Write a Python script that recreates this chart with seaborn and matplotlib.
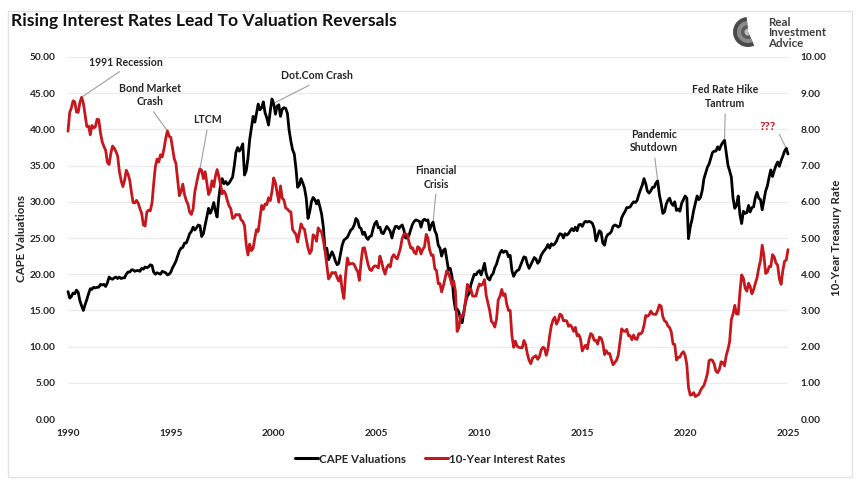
import matplotlib
matplotlib.use('Agg')
import numpy as np
import pandas as pd
import matplotlib.pyplot as plt
import matplotlib.dates as mdates
import seaborn as sns
from matplotlib.lines import Line2D
from matplotlib.patches import Rectangle, Wedge
from matplotlib.ticker import FormatStrFormatter

# monthly values, Jan 1990 .. Jan 2025
cape_values = [
    17.6, 16.7, 16.9, 17.4, 17.3, 17.8, 17.5, 16.3, 15.6, 15.0, 15.8, 16.5,  # 1990
    17.3, 18.0, 17.9, 18.2, 18.1, 18.2, 18.2, 18.6, 18.5, 18.6, 18.3, 18.8,  # 1991
    19.6, 19.4, 19.3, 19.5, 19.6, 19.4, 19.6, 19.4, 19.5, 19.5, 20.0, 20.3,  # 1992
    20.3, 20.6, 20.6, 20.4, 20.5, 20.5, 20.4, 20.8, 20.7, 21.0, 20.9, 21.0,  # 1993
    21.3, 21.2, 20.3, 20.0, 20.2, 20.1, 20.0, 20.4, 20.3, 20.2, 19.9, 20.0,  # 1994
    20.3, 20.9, 21.3, 21.8, 22.5, 23.2, 23.6, 23.7, 24.3, 24.3, 24.9, 25.6,  # 1995
    25.9, 26.5, 26.1, 26.4, 26.8, 26.7, 25.2, 25.6, 26.8, 27.9, 29.1, 28.4,  # 1996
    29.0, 29.9, 28.8, 27.9, 30.5, 32.3, 33.2, 32.5, 32.8, 32.4, 32.6, 33.0,  # 1997
    33.4, 35.0, 36.8, 37.5, 37.0, 37.4, 38.0, 33.7, 34.3, 36.0, 38.6, 40.2,  # 1998
    41.8, 41.0, 42.2, 43.5, 42.7, 43.0, 43.8, 42.3, 41.6, 40.6, 42.5, 44.2,  # 1999
    43.6, 42.1, 43.2, 43.4, 41.8, 42.8, 43.0, 42.9, 42.2, 39.9, 38.4, 37.2,  # 2000
    36.6, 34.5, 32.0, 32.3, 33.2, 32.6, 31.9, 30.5, 27.7, 28.6, 30.0, 30.6,  # 2001
    30.3, 29.7, 30.2, 29.3, 28.3, 26.5, 23.3, 23.6, 22.0, 22.5, 23.1, 22.6,  # 2002
    21.8, 21.3, 21.5, 22.8, 24.0, 24.7, 24.9, 25.1, 25.6, 26.1, 26.3, 26.8,  # 2003
    27.7, 27.4, 26.5, 26.3, 25.5, 25.8, 25.1, 24.8, 25.2, 25.3, 26.3, 27.0,  # 2004
    27.3, 26.4, 26.5, 25.7, 25.6, 26.1, 26.6, 26.3, 25.9, 25.0, 26.0, 26.6,  # 2005
    26.6, 26.3, 26.6, 26.8, 26.1, 25.0, 25.0, 25.4, 26.2, 26.9, 27.3, 27.5,  # 2006
    27.4, 27.3, 26.5, 27.4, 27.6, 27.4, 27.5, 26.1, 26.8, 27.2, 26.0, 25.5,  # 2007
    24.0, 23.6, 22.5, 23.3, 23.5, 22.0, 20.6, 20.8, 19.7, 16.7, 15.1, 15.2,  # 2008
    14.8, 13.6, 13.3, 14.9, 16.2, 17.0, 17.3, 18.5, 19.3, 20.0, 19.9, 20.3,  # 2009
    20.5, 19.9, 20.6, 21.5, 20.1, 19.4, 19.2, 19.8, 20.1, 20.9, 21.4, 22.2,  # 2010
    22.9, 23.3, 23.0, 23.2, 23.1, 22.4, 22.6, 20.5, 19.7, 20.2, 20.5, 20.6,  # 2011
    21.2, 21.8, 22.4, 22.3, 21.4, 20.8, 21.3, 21.8, 22.3, 22.1, 21.5, 21.8,  # 2012
    22.6, 23.0, 23.3, 23.6, 24.1, 23.6, 24.2, 24.0, 24.2, 24.6, 25.2, 25.6,  # 2013
    25.5, 25.0, 25.6, 25.4, 25.6, 26.0, 26.3, 26.0, 26.5, 26.0, 26.8, 26.9,  # 2014
    26.6, 27.1, 27.3, 27.2, 27.3, 27.2, 27.0, 26.3, 24.6, 25.3, 26.0, 25.8,  # 2015
    24.3, 24.0, 25.1, 25.5, 25.6, 25.9, 26.6, 26.8, 26.7, 26.5, 26.7, 27.8,  # 2016
    28.3, 28.7, 29.2, 29.2, 29.3, 29.7, 30.0, 29.9, 30.2, 31.0, 31.7, 32.3,  # 2017
    33.2, 32.5, 31.5, 31.2, 31.5, 32.0, 32.0, 32.6, 32.9, 31.0, 29.8, 28.4,  # 2018
    28.6, 29.7, 30.2, 30.5, 29.8, 29.5, 30.0, 28.8, 29.0, 28.7, 29.8, 30.3,  # 2019
    30.8, 30.5, 24.9, 26.5, 27.5, 28.8, 29.8, 30.8, 30.3, 30.6, 31.6, 33.2,  # 2020
    34.0, 34.8, 35.2, 36.0, 36.8, 37.0, 37.0, 37.6, 37.2, 37.8, 38.2, 38.5,  # 2021
    36.8, 35.0, 34.3, 33.4, 30.5, 29.1, 29.5, 30.8, 28.2, 27.0, 28.7, 28.4,  # 2022
    28.5, 29.5, 28.6, 29.2, 29.3, 30.6, 31.3, 30.5, 30.3, 28.9, 30.2, 31.5,  # 2023
    32.2, 33.4, 34.4, 33.5, 34.3, 35.0, 35.5, 34.9, 35.7, 36.3, 37.0, 37.4,  # 2024
    36.6,                                                                    # 2025
]

rate_values = [
    7.95, 8.47, 8.59, 8.79, 8.76, 8.48, 8.47, 8.75, 8.89, 8.72, 8.39, 8.08,  # 1990
    8.09, 7.85, 8.11, 8.04, 8.07, 8.28, 8.27, 7.90, 7.65, 7.53, 7.42, 7.09,  # 1991
    7.03, 7.34, 7.54, 7.48, 7.39, 7.26, 6.84, 6.59, 6.42, 6.59, 6.87, 6.77,  # 1992
    6.60, 6.26, 5.98, 5.97, 6.04, 5.96, 5.81, 5.68, 5.36, 5.33, 5.72, 5.77,  # 1993
    5.75, 5.97, 6.48, 6.97, 7.18, 7.10, 7.30, 7.24, 7.46, 7.74, 7.96, 7.81,  # 1994
    7.78, 7.47, 7.20, 7.06, 6.63, 6.17, 6.28, 6.49, 6.20, 6.04, 5.93, 5.71,  # 1995
    5.65, 5.81, 6.27, 6.51, 6.74, 6.91, 6.87, 6.64, 6.83, 6.53, 6.20, 6.30,  # 1996
    6.58, 6.42, 6.69, 6.89, 6.71, 6.49, 6.22, 6.30, 6.21, 6.03, 5.88, 5.81,  # 1997
    5.54, 5.57, 5.65, 5.64, 5.65, 5.50, 5.46, 5.34, 4.81, 4.53, 4.83, 4.65,  # 1998
    4.72, 5.00, 5.23, 5.18, 5.54, 5.90, 5.79, 5.94, 5.92, 6.11, 6.03, 6.28,  # 1999
    6.66, 6.52, 6.26, 5.99, 6.44, 6.10, 6.05, 5.83, 5.80, 5.74, 5.72, 5.24,  # 2000
    5.16, 5.10, 4.89, 5.14, 5.39, 5.28, 5.24, 4.97, 4.73, 4.57, 4.65, 5.09,  # 2001
    5.04, 4.91, 5.28, 5.21, 5.16, 4.93, 4.65, 4.26, 3.87, 3.94, 4.05, 4.03,  # 2002
    4.05, 3.90, 3.81, 3.96, 3.57, 3.33, 3.98, 4.45, 4.27, 4.29, 4.30, 4.27,  # 2003
    4.15, 4.08, 3.83, 4.35, 4.72, 4.73, 4.50, 4.28, 4.13, 4.10, 4.19, 4.23,  # 2004
    4.22, 4.17, 4.50, 4.34, 4.14, 4.00, 4.18, 4.26, 4.20, 4.46, 4.54, 4.47,  # 2005
    4.42, 4.57, 4.72, 4.99, 5.11, 5.11, 5.09, 4.88, 4.72, 4.73, 4.60, 4.56,  # 2006
    4.76, 4.72, 4.56, 4.69, 4.75, 5.10, 5.00, 4.67, 4.52, 4.53, 4.15, 4.10,  # 2007
    3.74, 3.74, 3.51, 3.68, 3.88, 4.10, 4.01, 3.89, 3.69, 3.81, 3.53, 2.42,  # 2008
    2.52, 2.87, 2.82, 2.93, 3.29, 3.72, 3.56, 3.59, 3.40, 3.39, 3.40, 3.59,  # 2009
    3.73, 3.69, 3.73, 3.85, 3.42, 3.20, 3.01, 2.70, 2.65, 2.54, 2.76, 3.29,  # 2010
    3.39, 3.58, 3.41, 3.46, 3.17, 3.00, 3.00, 2.30, 1.98, 2.15, 2.01, 1.98,  # 2011
    1.97, 1.97, 2.17, 2.05, 1.80, 1.62, 1.53, 1.68, 1.72, 1.75, 1.65, 1.72,  # 2012
    1.91, 1.98, 1.96, 1.76, 1.93, 2.30, 2.58, 2.74, 2.81, 2.62, 2.72, 2.90,  # 2013
    2.86, 2.71, 2.72, 2.71, 2.56, 2.60, 2.54, 2.42, 2.53, 2.30, 2.33, 2.21,  # 2014
    1.88, 1.98, 2.04, 1.94, 2.20, 2.36, 2.32, 2.17, 2.17, 2.07, 2.26, 2.24,  # 2015
    2.09, 1.78, 1.89, 1.81, 1.81, 1.64, 1.50, 1.56, 1.63, 1.76, 2.14, 2.49,  # 2016
    2.43, 2.42, 2.48, 2.30, 2.30, 2.19, 2.32, 2.21, 2.20, 2.36, 2.35, 2.40,  # 2017
    2.58, 2.86, 2.84, 2.87, 2.98, 2.91, 2.89, 2.89, 3.00, 3.15, 3.12, 2.83,  # 2018
    2.71, 2.68, 2.57, 2.53, 2.40, 2.07, 2.06, 1.63, 1.70, 1.71, 1.81, 1.86,  # 2019
    1.76, 1.50, 0.87, 0.66, 0.67, 0.73, 0.62, 0.65, 0.68, 0.79, 0.87, 0.93,  # 2020
    1.08, 1.26, 1.61, 1.64, 1.62, 1.52, 1.32, 1.28, 1.37, 1.58, 1.56, 1.47,  # 2021
    1.76, 1.93, 2.13, 2.75, 2.90, 3.14, 2.90, 2.90, 3.52, 3.98, 3.89, 3.62,  # 2022
    3.53, 3.75, 3.66, 3.46, 3.57, 3.75, 3.90, 4.17, 4.38, 4.80, 4.50, 4.02,  # 2023
    4.06, 4.21, 4.21, 4.54, 4.48, 4.31, 4.25, 3.87, 3.72, 4.10, 4.36, 4.39,  # 2024
    4.68,                                                                    # 2025
]

year_ticks = list(range(1990, 2030, 5))
cape_ticks = list(range(0, 55, 5))
rate_ticks = list(range(0, 11, 1))

# label, text position (fractional year, value), month the leader points at, axis
notes = [
    ('1991 Recession', 1992.8, 9.86, '1990-09', 'rate'),
    ('Bond Market\nCrash', 1994.0, 8.95, '1994-11', 'rate'),
    ('LTCM', 1996.8, 8.26, '1996-06', 'rate'),
    ('Dot.Com Crash', 2002.1, 47.4, '2000-01', 'cape'),
    ('Financial\nCrisis', 2007.9, 33.4, '2007-10', 'cape'),
    ('Pandemic\nShutdown', 2018.5, 38.4, '2018-09', 'cape'),
    ('Fed Rate Hike\nTantrum', 2021.95, 44.5, '2021-12', 'cape'),
    ('???', 2024.0, 40.4, '2024-12', 'cape'),
]

dates = pd.date_range('1990-01-01', periods=len(cape_values), freq='MS')
df = pd.DataFrame({'date': dates, 'cape': cape_values, 'rate': rate_values})

sns.set_style('white')
plt.rcParams['font.family'] = ['Lato', 'DejaVu Sans']
plt.rcParams['font.weight'] = 'bold'

BLACK = '#000000'
RED = '#c8161d'
TXT = '#262626'

fig = plt.figure(figsize=(8.64, 4.98), dpi=100)
ax = fig.add_axes([68 / 864, 1 - 419 / 498, 720 / 864, 362 / 498])
ax2 = ax.twinx()

sns.lineplot(data=df, x='date', y='cape', ax=ax, color=BLACK, lw=2.0, legend=False)
sns.lineplot(data=df, x='date', y='rate', ax=ax2, color=RED, lw=2.0, legend=False)
for l in ax.lines + ax2.lines:
    l.set_clip_on(False)

ax.set_xlim(pd.Timestamp('1990-01-01'), pd.Timestamp('2025-01-01'))
ax.set_ylim(0, 50)
ax2.set_ylim(0, 10)
ax.set_xticks([pd.Timestamp(f'{y}-01-01') for y in year_ticks])
ax.xaxis.set_major_formatter(mdates.DateFormatter('%Y'))
ax.set_yticks(cape_ticks)
ax2.set_yticks(rate_ticks)
ax.yaxis.set_major_formatter(FormatStrFormatter('%.2f'))
ax2.yaxis.set_major_formatter(FormatStrFormatter('%.2f'))
ax.grid(axis='y', color='#ebebeb', lw=0.9)
ax.set_axisbelow(True)
ax.set_xlabel('')
ax.set_ylabel('')
ax2.set_ylabel('')
for a in (ax, ax2):
    for s in a.spines.values():
        s.set_visible(False)
ax.tick_params(axis='x', length=0, pad=7, labelsize=7.3, labelcolor=TXT)
ax.tick_params(axis='y', length=0, pad=9, labelsize=7.3, labelcolor=TXT)
ax2.tick_params(axis='y', length=0, pad=9, labelsize=7.3, labelcolor=TXT)


def yr(v):
    return mdates.date2num(pd.Timestamp('1990-01-01') + pd.Timedelta(days=(v - 1990) * 365.25))


for label, tx, ty, month, which in notes:
    target = ax2 if which == 'rate' else ax
    row = df[df['date'] == pd.Timestamp(month + '-01')].iloc[0]
    color = RED if label == '???' else TXT
    size = 8.5 if label == '???' else 7.6
    relpos = (1.0, 0.5) if label == '???' else (0.5, 0.0)
    target.annotate(label, xy=(mdates.date2num(row['date']), row[which]), xytext=(yr(tx), ty),
                    ha='center', va='center', fontsize=size, fontweight='bold', color=color,
                    linespacing=1.3, annotation_clip=False,
                    arrowprops=dict(arrowstyle='-', color='#a0a0a0', lw=0.8,
                                    shrinkA=1, shrinkB=1, relpos=relpos))

fig.text(22 / 864, 1 - 238 / 498, 'CAPE Valuations', rotation=90, ha='center', va='center',
         fontsize=8.3, fontweight='bold', color=TXT)
fig.text(836 / 864, 1 - 238 / 498, '10-Year Treasury Rate', rotation=90, ha='center', va='center',
         fontsize=8.3, fontweight='bold', color=TXT)

fig.text(11 / 864, 1 - 21 / 498, 'Rising Interest Rates Lead To Valuation Reversals',
         ha='left', va='center', fontsize=12.6, fontweight='bold', color='#111111')

# logo
fig.text(768 / 864, 1 - 33 / 498, 'Real\nInvestment\nAdvice', ha='left', va='center',
         fontsize=8.3, fontweight='bold', color='#3f3f3f', linespacing=0.92)
for r, c in [(15, '#4a4a4a'), (11, '#8a8a8a'), (7, '#5a5a5a'), (3.5, '#c0c0c0')]:
    fig.patches.append(Wedge((748, 498 - 32), r, 95, 295, transform=None, facecolor=c,
                             edgecolor='none'))

handles = [Line2D([], [], color=BLACK, lw=2.2), Line2D([], [], color=RED, lw=2.2)]
fig.legend(handles, ['CAPE Valuations', '10-Year Interest Rates'], loc='center',
           bbox_to_anchor=(430 / 864, 1 - 459 / 498), ncol=2, frameon=False,
           fontsize=8.3, handlelength=2.0, handletextpad=0.12, columnspacing=1.6)

fig.patches.append(Rectangle((8 / 864, 1 - 477 / 498), 844 / 864, 466 / 498,
                             transform=fig.transFigure, fill=False, edgecolor='#e2e2e2', lw=1))

fig.savefig('out.png', dpi=100)
